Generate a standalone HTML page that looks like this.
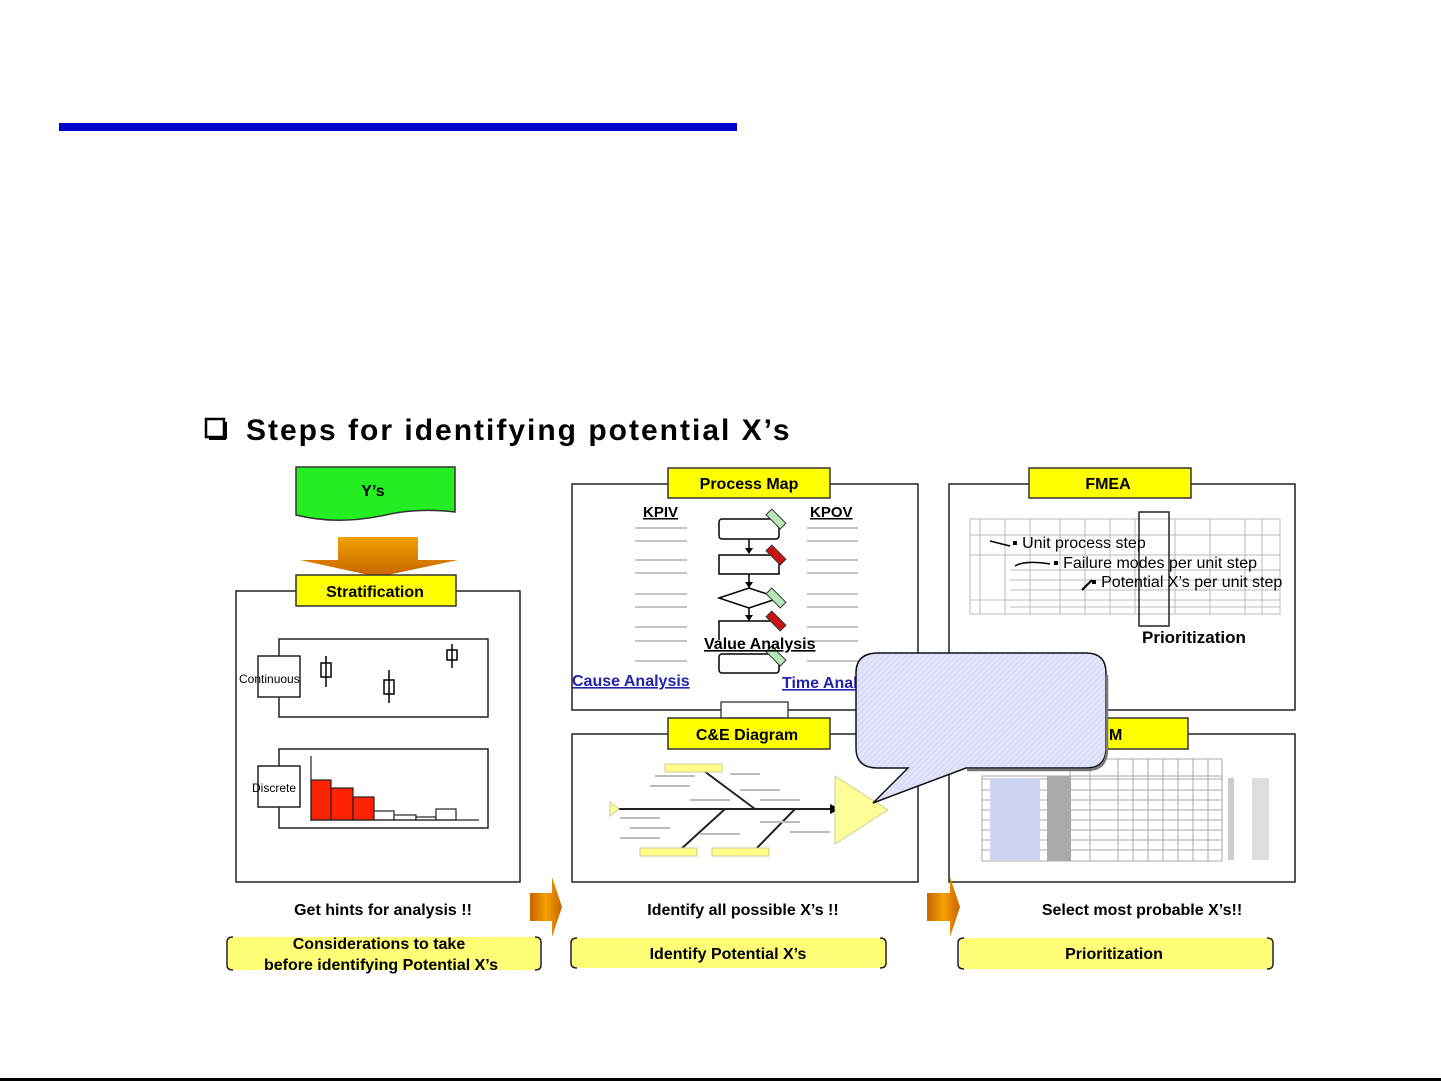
<!DOCTYPE html>
<html><head><meta charset="utf-8"><style>
html,body{margin:0;padding:0;background:#fff;}
svg{display:block;}
text{font-family:"Liberation Sans",sans-serif;}
</style></head><body>
<svg width="1441" height="1081" viewBox="0 0 1441 1081" xmlns="http://www.w3.org/2000/svg">
<defs>
<linearGradient id="og" x1="0" y1="0" x2="1" y2="0"><stop offset="0" stop-color="#c86400"/><stop offset="0.5" stop-color="#f5a000"/><stop offset="1" stop-color="#c86400"/></linearGradient>
<linearGradient id="ogv" x1="0" y1="0" x2="0" y2="1"><stop offset="0" stop-color="#f0a000"/><stop offset="1" stop-color="#c86400"/></linearGradient>
<pattern id="hatch" width="4" height="4" patternUnits="userSpaceOnUse" patternTransform="rotate(45)"><rect width="4" height="4" fill="#e2e4fb"/><line x1="0" y1="0" x2="0" y2="4" stroke="#c8ccf0" stroke-width="1.2"/></pattern>
</defs>
<rect x="59" y="123" width="678" height="8" fill="#0000cc"/>
<rect x="0" y="1078" width="1441" height="3" fill="#000"/>
<!-- title -->
<rect x="206" y="419" width="18" height="18" fill="none" stroke="#000" stroke-width="2.5"/>
<line x1="209" y1="439" x2="226" y2="439" stroke="#000" stroke-width="2"/>
<line x1="226" y1="422" x2="226" y2="439" stroke="#000" stroke-width="2"/>
<text x="246" y="440" font-size="30" font-weight="bold" letter-spacing="2">Steps for identifying potential X’s</text>

<!-- Y's flag -->
<path d="M296,467 H455 V512 Q420,508 390,514 Q340,526 296,515 Z" fill="#22ee22" stroke="#333" stroke-width="1.5"/>
<text x="373" y="496" font-size="16" font-weight="bold" text-anchor="middle">Y’s</text>
<!-- down arrow -->
<path d="M338,537 H418 V560 H458 L378,577 L300,560 H338 Z" fill="url(#ogv)"/>
<!-- left panel -->
<rect x="236" y="591" width="284" height="291" fill="#fff" stroke="#222" stroke-width="1.5"/>
<rect x="296" y="575" width="160" height="31" fill="#ffff00" stroke="#333" stroke-width="1.5"/>
<text x="375" y="597" font-size="16" font-weight="bold" text-anchor="middle">Stratification</text>
<rect x="279" y="639" width="209" height="78" fill="#fff" stroke="#222" stroke-width="1.5"/>
<rect x="258" y="656" width="42" height="41" fill="#fff" stroke="#222" stroke-width="1.5"/>
<text x="239" y="683" font-size="12">Continuous</text>
<g stroke="#000" stroke-width="1.5" fill="none">
<line x1="326" y1="656" x2="326" y2="687"/><rect x="321" y="663" width="10" height="14"/>
<line x1="389" y1="670" x2="389" y2="703"/><rect x="384" y="680" width="10" height="14"/>
<line x1="452" y1="644" x2="452" y2="668"/><rect x="447" y="650" width="10" height="10"/>
</g>
<rect x="279" y="749" width="209" height="79" fill="#fff" stroke="#222" stroke-width="1.5"/>
<rect x="258" y="766" width="42" height="41" fill="#fff" stroke="#222" stroke-width="1.5"/>
<g stroke="#222" stroke-width="1.2">
<rect x="311" y="780" width="20" height="40" fill="#ff2200"/>
<rect x="331" y="788" width="22" height="32" fill="#ff2200"/>
<rect x="353" y="797" width="21" height="23" fill="#ff2200"/>
<rect x="374" y="811" width="20" height="9" fill="#fff"/>
<rect x="394" y="815" width="22" height="5" fill="#fff"/>
<rect x="416" y="817" width="20" height="3" fill="#fff"/>
<rect x="436" y="809" width="20" height="11" fill="#fff"/>
<line x1="311" y1="756" x2="311" y2="821"/><line x1="311" y1="820" x2="479" y2="820"/>
</g>
<text x="252" y="792" font-size="12">Discrete</text>

<!-- Process map -->
<rect x="572" y="484" width="346" height="226" fill="#fff" stroke="#222" stroke-width="1.5"/>
<rect x="668" y="468" width="162" height="30" fill="#ffff00" stroke="#333" stroke-width="1.5"/>
<text x="749" y="489" font-size="16" font-weight="bold" text-anchor="middle">Process Map</text>
<text x="643" y="517" font-size="15" font-weight="bold" text-decoration="underline">KPIV</text>
<text x="810" y="517" font-size="15" font-weight="bold" text-decoration="underline">KPOV</text>
<g stroke="#888" stroke-width="1">
<path d="M635,528H687M635,541H687M635,560H687M635,573H687M635,594H687M635,607H687M635,627H687M635,641H687M635,661H687"/>
<path d="M807,528H858M807,541H858M807,560H858M807,573H858M807,594H858M807,607H858M807,627H858M807,641H858M807,661H858"/>
</g>
<g stroke="#000" stroke-width="1.5" fill="#fff">
<rect x="719" y="519" width="60" height="20" rx="3"/>
<rect x="719" y="555" width="60" height="19"/>
<path d="M719,598 L749,588 L779,598 L749,608 Z"/>
<path d="M719,640 V621 H779"/>
<rect x="719" y="654" width="60" height="19" rx="3"/>
<path d="M749,539V553M749,574V588M749,608V621" fill="none"/>
</g>
<g fill="#000"><path d="M745,548h8l-4,6z M745,582h8l-4,6z M745,615h8l-4,6z"/></g>
<g stroke="#333" stroke-width="1">
<rect x="766" y="515" width="20" height="8" fill="#b8e8b8" transform="rotate(45 776 519)"/>
<rect x="766" y="551" width="20" height="8" fill="#cc1111" transform="rotate(45 776 555)"/>
<rect x="766" y="594" width="20" height="8" fill="#b8e8b8" transform="rotate(45 776 598)"/>
<rect x="766" y="617" width="20" height="8" fill="#cc1111" transform="rotate(45 776 621)"/>
<rect x="766" y="652" width="20" height="8" fill="#b8e8b8" transform="rotate(45 776 656)"/>
</g>
<text x="704" y="649" font-size="16" font-weight="bold" text-decoration="underline">Value Analysis</text>
<text x="572" y="686" font-size="16" font-weight="bold" fill="#2222aa" text-decoration="underline">Cause Analysis</text>
<text x="782" y="688" font-size="16" font-weight="bold" fill="#2222aa" text-decoration="underline">Time Analysis</text>
<rect x="721" y="702" width="67" height="16" fill="#fff" stroke="#222" stroke-width="1.2"/>

<!-- C&E -->
<rect x="572" y="734" width="346" height="148" fill="#fff" stroke="#222" stroke-width="1.5"/>
<rect x="668" y="718" width="162" height="31" fill="#ffff00" stroke="#333" stroke-width="1.5"/>
<text x="747" y="740" font-size="16" font-weight="bold" text-anchor="middle">C&amp;E Diagram</text>
<g stroke="#222" stroke-width="2">
<line x1="615" y1="809" x2="830" y2="809"/>
<line x1="700" y1="768" x2="755" y2="809"/>
<line x1="680" y1="850" x2="725" y2="809"/>
<line x1="755" y1="850" x2="795" y2="809"/>
</g>
<path d="M830,804l10,5l-10,5z" fill="#000"/>
<path d="M610,802l9,7l-9,7z" fill="#ffff99" stroke="#cc9"/>
<path d="M835,776 L888,810 L835,844 Z" fill="#ffff99" stroke="#cc9"/>
<g fill="#ffff88" stroke="#cc9"><rect x="665" y="764" width="57" height="8"/><rect x="640" y="848" width="57" height="8"/><rect x="712" y="848" width="57" height="8"/></g>
<g stroke="#bbb" stroke-width="2"><path d="M655,776h40M650,786h40M690,800h40M620,818h40M630,828h40M620,838h40M730,774h30M740,790h40M760,800h40M760,822h40M700,834h40M790,832h40"/></g>

<!-- FMEA -->
<rect x="949" y="484" width="346" height="226" fill="#fff" stroke="#222" stroke-width="1.5"/>
<rect x="1029" y="468" width="162" height="30" fill="#ffff00" stroke="#333" stroke-width="1.5"/>
<text x="1108" y="489" font-size="16" font-weight="bold" text-anchor="middle">FMEA</text>
<g stroke="#bbb" stroke-width="1" fill="none">
<rect x="970" y="519" width="310" height="95"/>
<path d="M970,535H1280M970,555H1280M1010,570H1280M1010,580H1280M1010,590H1280M970,600H1280M1010,607H1280"/>
<path d="M980,519V614M1005,519V614M1030,519V614M1060,519V614M1085,519V614M1110,519V614M1135,519V614M1175,519V614M1210,519V614M1245,519V614M1262,519V614"/>
</g>
<rect x="1139" y="512" width="30" height="114" fill="none" stroke="#222" stroke-width="1.5"/>
<text x="1012" y="548" font-size="16">▪ Unit  process step</text>
<text x="1053" y="568" font-size="16">▪ Failure modes  per unit step</text>
<text x="1091" y="587" font-size="16">▪ Potential  X’s per unit step</text>
<path d="M990,541 L1010,546 M1015,566 Q1025,560 1050,564" stroke="#000" stroke-width="1.5" fill="none"/>
<path d="M1082,590 L1092,580" stroke="#000" stroke-width="2"/>
<text x="1142" y="643" font-size="17" font-weight="bold">Prioritization</text>

<!-- XY matrix -->
<rect x="949" y="734" width="346" height="148" fill="#fff" stroke="#222" stroke-width="1.5"/>
<rect x="1029" y="718" width="159" height="31" fill="#ffff00" stroke="#333" stroke-width="1.5"/>
<g stroke="#aaa" stroke-width="1" fill="none">
<rect x="982" y="776" width="240" height="85"/>
<path d="M1070,759V861M1090,759V861M1118,759V861M1133,759V861M1148,759V861M1163,759V861M1178,759V861M1193,759V861M1208,759V861M1222,759V861M1070,759H1222M982,779H1222"/>
<path d="M982,790H1222M982,800H1222M982,810H1222M982,820H1222M982,830H1222M982,840H1222M982,850H1222"/>
</g>
<rect x="1047" y="776" width="24" height="85" fill="#aaa"/>
<rect x="990" y="778" width="50" height="82" fill="#d0d4f4"/>
<rect x="1252" y="778" width="17" height="82" fill="#ddd"/>
<rect x="1228" y="778" width="6" height="82" fill="#ccc"/>
<text x="1109" y="740" font-size="16" font-weight="bold">M</text>

<!-- callout -->
<path d="M878,653 H1086 Q1106,653 1106,673 V748 Q1106,768 1086,768 H966 L873,803 L908,768 H878 Q856,768 856,748 V673 Q856,653 878,653 Z" fill="url(#hatch)" stroke="#111" stroke-width="1.5"/>
<path d="M1107,675 V749 Q1107,770 1087,770 H967" stroke="#777" stroke-width="2.5" fill="none"/>

<!-- right arrows -->
<path d="M530,893 H552 V877 L562,907 L552,937 V921 H530 Z" fill="url(#og)"/>
<path d="M927,893 H950 V877 L960,907 L950,937 V921 H927 Z" fill="url(#og)"/>

<!-- captions -->
<text x="383" y="915" font-size="16" font-weight="bold" text-anchor="middle">Get hints for analysis !!</text>
<text x="743" y="915" font-size="16" font-weight="bold" text-anchor="middle">Identify all possible X’s !!</text>
<text x="1142" y="915" font-size="16" font-weight="bold" text-anchor="middle">Select most probable X’s!!</text>

<g fill="#ffff77">
<rect x="228" y="937" width="312" height="33"/>
<rect x="572" y="938" width="313" height="30"/>
<rect x="959" y="938" width="313" height="31"/>
</g>
<g stroke="#222" stroke-width="1.5" fill="none">
<path d="M233,937 Q227,937 227,942 V965 Q227,970 233,970 M535,937 Q541,937 541,942 V965 Q541,970 535,970"/>
<path d="M577,938 Q571,938 571,943 V963 Q571,968 577,968 M880,938 Q886,938 886,943 V963 Q886,968 880,968"/>
<path d="M964,938 Q958,938 958,943 V964 Q958,969 964,969 M1267,938 Q1273,938 1273,943 V964 Q1273,969 1267,969"/>
</g>
<text x="379" y="949" font-size="16" font-weight="bold" text-anchor="middle">Considerations to take</text>
<text x="381" y="970" font-size="16" font-weight="bold" text-anchor="middle">before identifying Potential X’s</text>
<text x="728" y="959" font-size="16" font-weight="bold" text-anchor="middle">Identify Potential X’s</text>
<text x="1114" y="959" font-size="16" font-weight="bold" text-anchor="middle">Prioritization</text>
</svg>
</body></html>
